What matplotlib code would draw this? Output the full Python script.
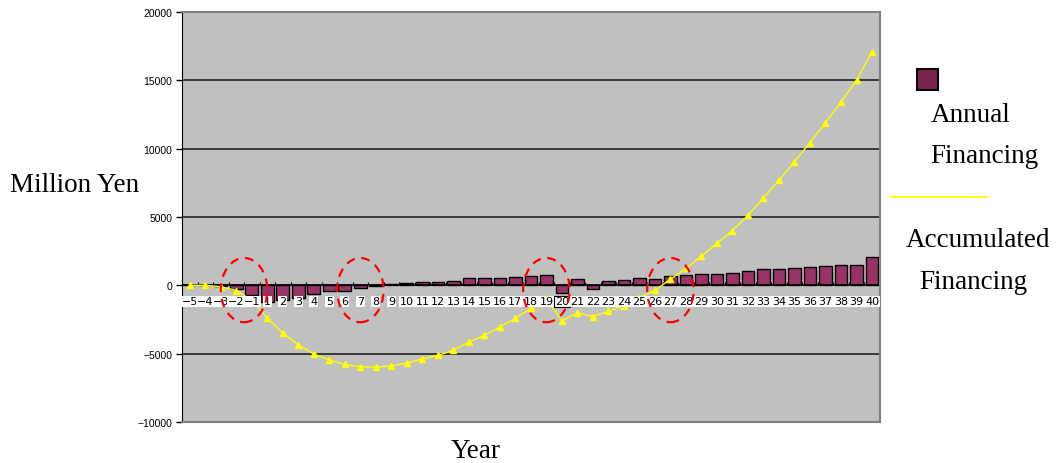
import numpy as np
import matplotlib
matplotlib.use("Agg")
import matplotlib.pyplot as plt
from matplotlib.patches import Ellipse, Rectangle
from matplotlib.lines import Line2D

# years of the project (no year 0)
years = [-5, -4, -3, -2, -1] + list(range(1, 41))

annual = [0, 0, -30, -250, -730,
          -1200, -1050, -900, -650, -450, -400, -220, -30, 100, 150,
          250, 220, 320, 500, 500, 560, 590, 680, 730, -590,
          490, -240, 320, 410, 560, 490, 680, 730, 800, 850,
          925, 1020, 1220, 1220, 1290, 1360, 1410, 1480, 1510, 2100]

accumulated = [0, 0, -100, -380, -1080,
               -2410, -3500, -4360, -5040, -5450, -5790, -5960, -5990, -5890, -5690,
               -5380, -5130, -4750, -4160, -3670, -3040, -2410, -1680, -950, -2600,
               -2000, -2290, -1900, -1500, -900, -365, 440, 1240, 2120, 3070,
               4010, 5110, 6400, 7690, 9030, 10440, 11900, 13400, 15010, 17080]

# years highlighted with dashed red circles
circled = [-1.5, 7, 19, 27]
boxed_labels = [20]

x = np.arange(len(years))

fig = plt.figure(figsize=(10.62, 4.64), dpi=100)
ax = fig.add_axes([0.1714, 0.0884, 0.657, 0.8836])
ax.set_facecolor("#C0C0C0")

ax.set_xlim(-0.5, len(years) - 0.5)
ax.set_ylim(-10000, 20000)
ax.set_yticks(np.arange(-10000, 20001, 5000))
ax.set_yticklabels([f"{v}".replace("-", "\u2212") for v in range(-10000, 20001, 5000)],
                   fontsize=7.5, family="Liberation Sans")
ax.tick_params(axis="y", direction="out", length=4, width=1, pad=3)
ax.set_xticks([])
for yv in range(-5000, 20000, 5000):
    if yv != 0:
        ax.axhline(yv, color="#222222", lw=1.2, zorder=1)

for side in ["top", "right", "bottom"]:
    ax.spines[side].set_color("#808080")
    ax.spines[side].set_linewidth(1.5)
ax.spines["left"].set_color("black")

# small category ticks on the zero axis
ax.vlines(x[:-1] + 0.5, 0, 250, color="black", lw=0.8, zorder=1.5)

ax.bar(x, annual, width=0.82, color="#993366", edgecolor="black", lw=1.0, zorder=2)
ax.axhline(0, color="black", lw=1.3, zorder=2.5)

ax.plot(x, accumulated, color="#FFFF00", lw=1.0, marker="^", markersize=5,
        markerfacecolor="#FFFF00", markeredgecolor="#FFFF00", zorder=3)

# category labels sitting on the zero line
idx = {y: i for i, y in enumerate(years)}
for i, yr in enumerate(years):
    ec = "black" if yr in boxed_labels else "none"
    ax.annotate(f"{yr}".replace("-", "\u2212"), (i, 0), xytext=(0, -8),
                textcoords="offset points", ha="center", va="top",
                fontsize=8, family="DejaVu Sans", zorder=4,
                bbox=dict(boxstyle="square,pad=0.08", fc="white", ec=ec, lw=0.8))

for c in circled:
    if c in idx:
        cx = idx[c]
    else:
        cx = (idx[int(np.floor(c))] + idx[int(np.ceil(c))]) / 2
    ax.add_patch(Ellipse((cx, -350), 3.0, 4700, fill=False, ec="red",
                         lw=1.6, ls=(0, (4, 3)), zorder=5))

serif = "Liberation Serif"
fig.text(0.0094, 0.60, "Million Yen", fontsize=19.5, family=serif, va="center", ha="left")
fig.text(0.448, 0.028, "Year", fontsize=19.5, family=serif, va="center", ha="center")

# legend drawn by hand
fig.patches.append(Rectangle((0.863, 0.804), 0.0207, 0.045, transform=fig.transFigure,
                             fc="#7B2451", ec="black", lw=1.5))
fig.text(0.876, 0.752, "Annual", fontsize=19.5, family=serif, va="center", ha="left")
fig.text(0.876, 0.662, "Financing", fontsize=19.5, family=serif, va="center", ha="left")
fig.lines.append(Line2D([0.838, 0.929], [0.573, 0.573], transform=fig.transFigure,
                        color="#FFFF00", lw=1.3))
fig.text(0.853, 0.481, "Accumulated", fontsize=19.5, family=serif, va="center", ha="left")
fig.text(0.866, 0.392, "Financing", fontsize=19.5, family=serif, va="center", ha="left")

fig.savefig("out.png", dpi=100)
